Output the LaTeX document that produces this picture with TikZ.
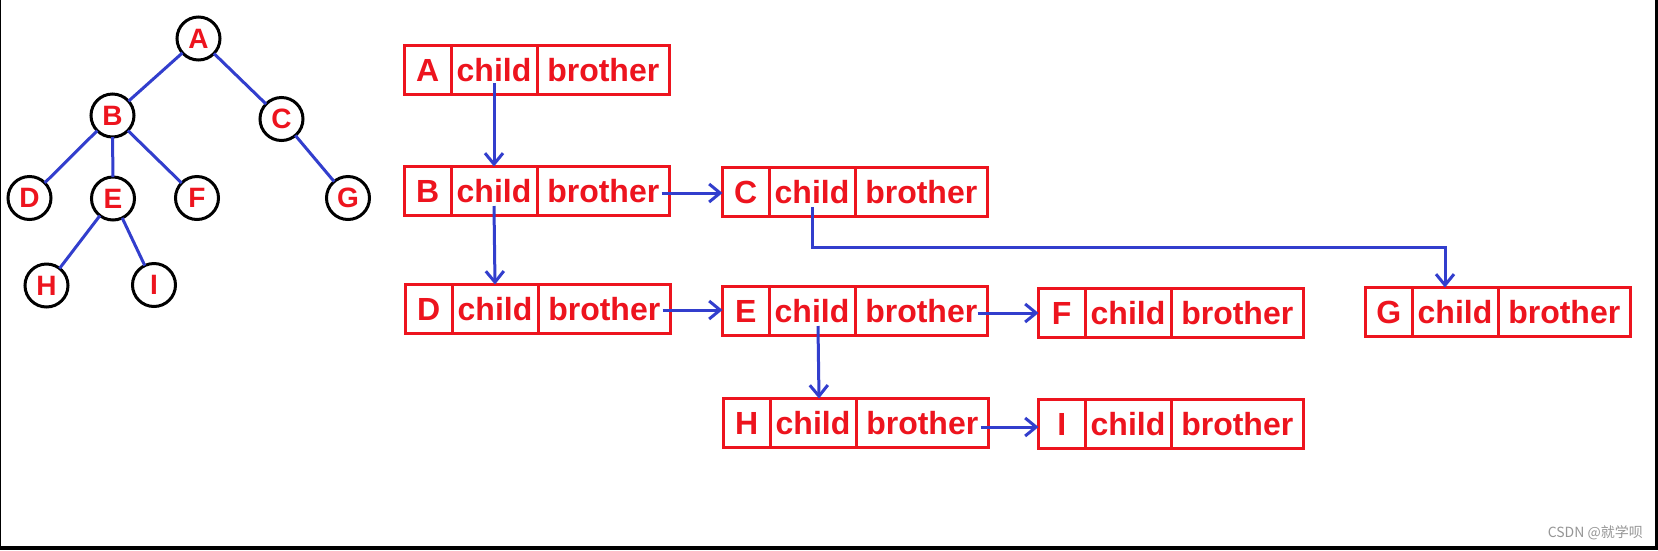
\documentclass[tikz,border=0pt]{standalone}
\usepackage{fontspec}
\setmainfont{Liberation Sans}
\newfontfamily\cjkfont{Noto Sans CJK SC}
\usetikzlibrary{arrows.meta,calc}
\definecolor{nred}{RGB}{237,20,30}
\definecolor{nblue}{RGB}{50,62,205}
\definecolor{wmgray}{RGB}{150,150,150}
\tikzset{
  cellbox/.style={draw=nred, line width=3pt, rectangle, inner sep=0pt, outer sep=0pt,
    minimum height=49pt, text=nred, font=\fontsize{32}{36}\selectfont\bfseries},
  treenode/.style={draw=black, line width=3pt, circle, inner sep=0pt, outer sep=0pt,
    minimum size=43pt, text=nred, font=\fontsize{28}{32}\selectfont\bfseries},
  treeedge/.style={draw=nblue, line width=3pt},
  ptr/.style={draw=nblue, line width=3pt, -{Straight Barb[length=11pt,width=18pt]}},
}
\newcommand\mkrec[4]{%
  \node[cellbox, minimum width=46.5pt, anchor=north west] (#1l) at (#2+1.5,#3+1.5) {#4};
  \node[cellbox, minimum width=86pt, anchor=west] (#1c) at (#1l.east) {child};
  \node[cellbox, minimum width=132.5pt, anchor=west] (#1b) at (#1c.east) {brother};
}
\begin{document}
\begin{tikzpicture}[x=1pt,y=-1pt]
\useasboundingbox (0,0) rectangle (1658,550);
\fill[white] (0,0) rectangle (1658,550);
% frame
\fill[black] (0,0) rectangle (1.2,550);
\fill[black] (1655,0) rectangle (1658,550);
\fill[black] (0,546) rectangle (1658,550);
% tree
\node[treenode] (tA) at (198.5,38.5) {A};
\node[treenode] (tB) at (112.5,115.5) {B};
\node[treenode] (tC) at (281.5,119) {C};
\node[treenode] (tD) at (29.5,198) {D};
\node[treenode] (tE) at (113,198.5) {E};
\node[treenode] (tF) at (197,198) {F};
\node[treenode] (tG) at (348,198) {G};
\node[treenode] (tH) at (46.5,285.5) {H};
\node[treenode] (tI) at (154,285) {I};
\draw[treeedge] (tA) -- (tB);
\draw[treeedge] (tA) -- (tC);
\draw[treeedge] (tB) -- (tD);
\draw[treeedge] (tB) -- (tE);
\draw[treeedge] (tB) -- (tF);
\draw[treeedge] (tC) -- (tG);
\draw[treeedge] (tE) -- (tH);
\draw[treeedge] (tE) -- (tI);
% child-brother records
\mkrec{A}{403}{44}{A}
\mkrec{B}{403}{165}{B}
\mkrec{C}{721}{166}{C}
\mkrec{D}{404}{283}{D}
\mkrec{E}{721}{285}{E}
\mkrec{F}{1037}{287}{F}
\mkrec{G}{1364}{286}{G}
\mkrec{H}{722}{397}{H}
\mkrec{I}{1037}{398}{I}
% pointers
\draw[ptr] ($(Ac.center)+(0,13)$) -- (Bc.north);
\draw[ptr] ($(Bc.center)+(0,15)$) -- (Dc.north);
\draw[ptr] ($(Ec.center)+(6,15)$) -- ($(Hc.north)+(6,0)$);
\coordinate (bc) at ($(Bb.east)+(-8,2)$);
\draw[ptr] (bc) -- (bc -| Cl.west);
\coordinate (dc) at ($(Db.east)+(-8,1)$);
\draw[ptr] (dc) -- (dc -| El.west);
\coordinate (ec) at ($(Eb.east)+(-10,2)$);
\draw[ptr] (ec) -- (ec -| Fl.west);
\coordinate (hc) at ($(Hb.east)+(-8,4)$);
\draw[ptr] (hc) -- (hc -| Il.west);
\coordinate (gt) at ($(Gc.north)+(-10,0)$);
\draw[ptr] ($(Cc.center)+(0,15)$) |- ($(gt)+(0,-40)$) -- (gt);
% watermark
\node[anchor=east, text=wmgray, inner sep=0pt, font=\cjkfont\fontsize{14}{16}\selectfont] (wm) at (1643,533) {CSDN @就学呗};
\end{tikzpicture}
\end{document}
